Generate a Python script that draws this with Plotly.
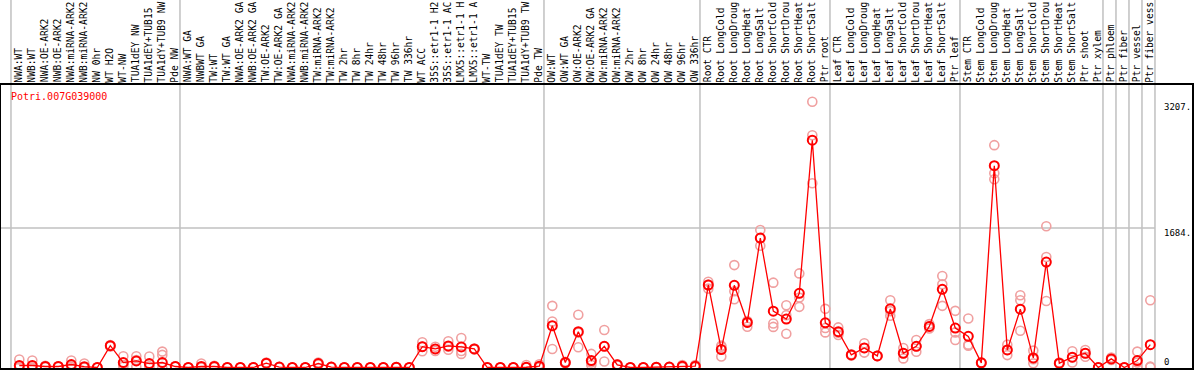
import plotly.graph_objects as go

gene_id = "Potri.007G039000"

labels = [
    "NWA:WT", "NWB:WT", "NWA:OE-ARK2", "NWB:OE-ARK2", "NWA:miRNA-ARK2", "NWB:miRNA-ARK2",
    "NW 0hr", "WT H2O", "WT-NW", "TUA1dEY NW", "TUA1dEY+TUB15", "TUA1dY+TUB9 NW", "Pde NW",
    "NWA:WT GA", "NWBWT GA", "TW:WT", "TW:WT GA", "NWA:OE-ARK2 GA", "NWB:OE-ARK2 GA",
    "TW:OE-ARK2", "TW:OE-ARK2 GA", "NWA:miRNA-ARK2", "NWB:miRNA-ARK2", "TW:miRNA-ARK2",
    "TW:miRNA-ARK2", "TW 2hr", "TW 8hr", "TW 24hr", "TW 48hr", "TW 96hr", "TW 336hr",
    "WT ACC", "35S::etr1-1 H2", "35S::etr1-1 AC", "LMX5::etr1-1 H", "LMX5::etr1-1 A",
    "WT-TW", "TUA1dEY TW", "TUA1dEY+TUB15", "TUA1dY+TUB9 TW", "Pde TW",
    "OW:WT", "OW:WT GA", "OW:OE-ARK2", "OW:OE-ARK2 GA", "OW:miRNA-ARK2", "OW:miRNA-ARK2",
    "OW 2hr", "OW 8hr", "OW 24hr", "OW 48hr", "OW 96hr", "OW 336hr",
    "Root CTR", "Root LongCold", "Root LongDroug", "Root LongHeat", "Root LongSalt",
    "Root ShortCold", "Root ShortDrou", "Root ShortHeat", "Root ShortSalt", "Ptr root",
    "Leaf CTR", "Leaf LongCold", "Leaf LongDroug", "Leaf LongHeat", "Leaf LongSalt",
    "Leaf ShortCold", "Leaf ShortDrou", "Leaf ShortHeat", "Leaf ShortSalt", "Ptr leaf",
    "Stem CTR", "Stem LongCold", "Stem LongDroug", "Stem LongHeat", "Stem LongSalt",
    "Stem ShortCold", "Stem ShortDrou", "Stem ShortHeat", "Stem ShortSalt", "Ptr shoot",
    "Ptr xylem", "Ptr phloem", "Ptr fiber", "Ptr vessel", "Ptr fiber vess",
]

# first index of each sample group (group separators)
group_starts = [0, 13, 41, 53, 63, 73, 84, 85, 86, 87, 88]

mean_values = [
    24, 24, 12, 12, 36, 10, 0, 264, 60, 80, 48, 60, 12,
    0, 12, 12, 0, 0, 0, 52, 5, 0, 0, 48, 5, 0, 0, 0, 0, 3, 0,
    252, 224, 260, 248, 224, 0, 0, 0, 3, 16,
    504, 60, 432, 84, 256, 32, 0, 0, 3, 5, 16, 16,
    996, 216, 992, 544, 1563, 680, 584, 896, 2744, 540,
    432, 152, 236, 140, 708, 172, 256, 496, 944, 476,
    376, 56, 2436, 212, 704, 116, 1273, 52, 124, 172, 0,
    104, 0, 84, 276,
]

replicates = [
    [96, 5, 0], [84, 0, 0], [20, 10, 5], [15, 12, 8], [84, 20, 5], [48, 0, 0], [0, 0, 0],
    [270, 260, 255], [136, 30, 10], [136, 90, 10], [132, 10, 0], [192, 152, 0], [15, 10, 10],
    [0, 0, 0], [48, 0, 0], [20, 10, 5], [0, 0, 0], [0, 0, 0], [0, 0, 0], [60, 50, 45],
    [5, 5, 5], [0, 0, 0], [0, 0, 0], [60, 48, 36], [5, 5, 5], [0, 0, 0], [0, 0, 0],
    [0, 0, 0], [0, 0, 0], [5, 3, 0], [0, 0, 0],
    [304, 252, 196], [250, 224, 200], [316, 250, 215], [356, 200, 164], [230, 224, 218],
    [0, 0, 0], [0, 0, 0], [0, 0, 0], [30, 0, 0], [40, 8, 0],
    [744, 556, 224], [70, 60, 50], [636, 420, 244], [164, 60, 30], [452, 256, 72],
    [40, 32, 24], [0, 0, 0], [0, 0, 0], [5, 3, 0], [5, 5, 5], [30, 16, 5], [30, 16, 5],
    [1036, 1000, 952], [264, 250, 132], [1236, 920, 824], [560, 544, 492],
    [1660, 1560, 1470], [1024, 532, 490], [752, 632, 408], [1136, 844, 732],
    [3207, 2804, 2224], [708, 476, 424],
    [484, 420, 392], [160, 152, 144], [292, 236, 180], [140, 140, 140], [812, 680, 624],
    [236, 172, 110], [332, 256, 190], [524, 496, 470], [1104, 1004, 744], [684, 424, 332],
    [592, 276, 264], [60, 56, 52], [2684, 2344, 2272], [276, 212, 150], [872, 812, 444],
    [204, 100, 50], [1705, 1334, 803], [60, 52, 44], [196, 120, 60], [212, 172, 130],
    [0, 0, 0],
    [120, 104, 90], [0, 0, 0], [192, 60, 0], [812, 10, 5],
]

tick_values = [3207, 1684, 0]
tick_texts = ["3207.", "1684.", "0"]

# ---------------------------------------------------------------------------
W, H = 1194, 370
ML, MR, MT, MB = 1, 2, 85, 2
PW = W - ML - MR
PH = H - MT - MB
XR = [-1.408, -1.408 + PW / 13.0]
YR = [-6, 3410]

idx = list(range(len(labels)))
rx, ry = [], []
for i, reps in enumerate(replicates):
    for r in reps:
        rx.append(i)
        ry.append(r)

fig = go.Figure()
fig.add_trace(go.Scatter(
    x=rx, y=ry, mode="markers",
    marker=dict(symbol="circle-open", size=9, color="#f0a0a0", line=dict(width=1.6, color="#f0a0a0")),
    hoverinfo="skip", showlegend=False, cliponaxis=False,
))
fig.add_trace(go.Scatter(
    x=idx, y=mean_values, mode="lines+markers",
    line=dict(color="#ff0000", width=1.3),
    marker=dict(symbol="circle-open", size=9, color="#ff0000", line=dict(width=2, color="#ff0000")),
    showlegend=False, cliponaxis=False,
))

shapes = []
for b in group_starts:
    xp = b - 0.64
    shapes.append(dict(type="line", xref="x", yref="paper", x0=xp, x1=xp, y0=0, y1=(H - MB) / PH,
                       line=dict(color="#c0c0c0", width=1.5), layer="below"))
shapes.append(dict(type="line", xref="x", yref="y", x0=XR[0], x1=len(labels) - 0.64,
                   y0=tick_values[1], y1=tick_values[1], line=dict(color="#c0c0c0", width=1.5), layer="below"))

annotations = []
for i, lab in enumerate(labels):
    annotations.append(dict(
        x=i - 0.05, xref="x", y=1 + 1.5 / PH, yref="paper", text=lab, textangle=-90,
        showarrow=False, xanchor="center", yanchor="bottom", borderpad=0,
        font=dict(family="DejaVu Sans Mono", size=9.6, color="black"),
    ))
annotations.append(dict(
    x=8 / PW, xref="paper", y=(H - MB - 97) / PH, yref="paper", text=gene_id,
    showarrow=False, xanchor="left", yanchor="middle",
    font=dict(family="DejaVu Sans Mono", size=10, color="#ff0000"),
))
tick_px = [107, 233, 362]
for tv, tt, py in zip(tick_values, tick_texts, tick_px):
    annotations.append(dict(
        x=(1162 - ML) / PW, xref="paper", y=(H - MB - py) / PH, yref="paper", text=tt,
        showarrow=False, xanchor="left", yanchor="middle",
        font=dict(family="DejaVu Sans Mono", size=9, color="black"),
    ))

fig.update_layout(
    width=W, height=H, margin=dict(l=ML, r=MR, t=MT, b=MB, pad=0),
    paper_bgcolor="white", plot_bgcolor="white",
    xaxis=dict(range=XR, showgrid=False, zeroline=False, showticklabels=False, ticks="",
               showline=True, mirror=True, linecolor="black", linewidth=2),
    yaxis=dict(range=YR, showgrid=False, zeroline=False, showticklabels=False, ticks="",
               showline=True, mirror=True, linecolor="black", linewidth=2),
    shapes=shapes, annotations=annotations,
)

fig.write_html("out.html", config={"displayModeBar": False},
               post_script="document.body.style.margin='0px';")
